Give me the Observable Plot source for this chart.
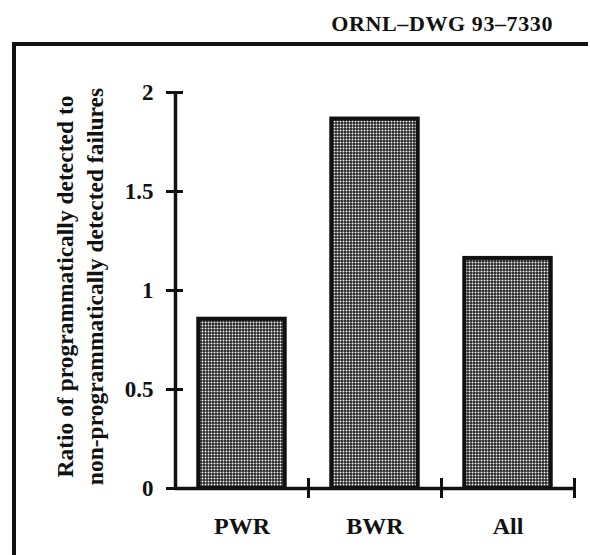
<!DOCTYPE html>
<html>
<head>
<meta charset="utf-8">
<script src="https://cdn.jsdelivr.net/npm/d3@7"></script>
<script src="https://cdn.jsdelivr.net/npm/@observablehq/plot@0.6"></script>
<style>
  html, body { margin: 0; padding: 0; background: #fff; }
  #wrap { position: relative; width: 590px; height: 555px; overflow: hidden; font-family: "Liberation Serif", "Times New Roman", serif; }
  #header { position: absolute; right: 37px; top: 11px; font-size: 22px; font-weight: bold; letter-spacing: 0.6px; color: #111; white-space: nowrap; }
  #topline { position: absolute; left: 12px; top: 42px; width: 576px; height: 0; border-top: 4px solid #111; }
  #leftline { position: absolute; left: 12px; top: 42px; width: 0; height: 513px; border-left: 4px solid #111; }
  #chart { position: absolute; left: 0; top: 0; }
</style>
</head>
<body>
<div id="wrap">
  <div id="header"></div>
  <div id="topline"></div>
  <div id="leftline"></div>
  <div id="chart"></div>
</div>
<script>
// ---- data ----
const categories = ["PWR", "BWR", "All"];
const ratios = [0.855, 1.866, 1.162];
const yTicks = [0, 0.5, 1, 1.5, 2];
const yTickLabels = ["0", "0.5", "1", "1.5", "2"];
const yTitleLines = ["Ratio of programmatically detected to", "non-programmatically detected failures"];
const headerText = "ORNL–DWG 93–7330";

document.getElementById("header").textContent = headerText;

const data = categories.map((c, i) => ({category: c, index: i, value: ratios[i]}));
const boundaries = d3.range(1, categories.length + 1);
const centers = categories.map((c, i) => i + 0.5);

const ink = "#111";
const chart = Plot.plot({
  width: 590,
  height: 555,
  marginTop: 92,
  marginBottom: 67,
  marginLeft: 175,
  marginRight: 16,
  style: {fontFamily: "'Liberation Serif', 'Times New Roman', serif", background: "transparent", color: ink},
  x: {type: "linear", domain: [0, categories.length]},
  y: {domain: [0, 2]},
  marks: [
    Plot.rectY(data, {
      x1: d => d.index + 0.175,
      x2: d => d.index + 0.825,
      y: "value",
      fill: "url(#stipple)",
      stroke: ink,
      strokeWidth: 4
    }),
    // y axis spine
    Plot.ruleX([0], {x: d => d, y1: 0, y2: 2, stroke: ink, strokeWidth: 3.5}),
    // x axis line
    Plot.ruleY([0], {y: d => d, x1: 0, x2: categories.length, stroke: ink, strokeWidth: 3.5}),
    // y cross ticks
    Plot.axisY({ticks: yTicks, tickSize: 17, dx: 8, tickFormat: () => "", stroke: ink, strokeWidth: 3, label: null}),
    // y tick labels
    Plot.axisY({ticks: yTicks, tickSize: 0, tickPadding: 22, tickFormat: d => yTickLabels[yTicks.indexOf(d)],
      fontSize: 23, fontWeight: "bold", label: null}),
    // x boundary cross ticks
    Plot.axisX({ticks: boundaries, tickSize: 20, dy: -10, tickFormat: () => "", stroke: ink, strokeWidth: 3, label: null}),
    // x category labels
    Plot.axisX({ticks: centers, tickSize: 0, tickPadding: 28, tickFormat: d => categories[Math.floor(d)],
      fontSize: 24, fontWeight: "bold", label: null}),
    // y title (two lines, rotated)
    Plot.text([yTitleLines.join("\n")], {
      frameAnchor: "left", rotate: -90, dx: -97, dy: -4, text: d => d,
      fontSize: 23.5, fontWeight: "bold", lineHeight: 1.25, textAnchor: "middle", lineAnchor: "middle", fill: ink
    })
  ]
});

// stipple pattern for bars
const svg = d3.select(chart);
const defs = svg.insert("defs", ":first-child");
const pat = defs.append("pattern").attr("id", "stipple").attr("patternUnits", "userSpaceOnUse")
  .attr("width", 3).attr("height", 3);
pat.append("rect").attr("width", 3).attr("height", 3).attr("fill", "#222");
pat.append("circle").attr("cx", 1.5).attr("cy", 1.5).attr("r", 1.0).attr("fill", "#f4f4f4");

document.getElementById("chart").appendChild(chart);
</script>
</body>
</html>
